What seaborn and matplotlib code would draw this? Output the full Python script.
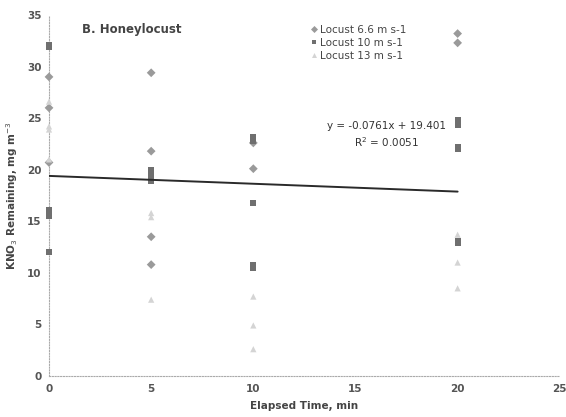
import numpy as np
import pandas as pd
import matplotlib
matplotlib.use("Agg")
import matplotlib.pyplot as plt
import seaborn as sns

series_names = ["Locust 6.6 m s-1", "Locust 10 m s-1", "Locust 13 m s-1"]

x_66 = [0, 0, 0, 5, 5, 5, 5, 10, 10, 20, 20]
y_66 = [29.0, 26.0, 20.7, 29.4, 21.8, 13.5, 10.8, 22.6, 20.1, 33.2, 32.3]

x_10 = [0, 0, 0, 0, 0, 0, 5, 5, 5, 5, 10, 10, 10, 10, 10, 20, 20, 20, 20, 20, 20, 20]
y_10 = [32.1, 31.9, 16.1, 15.8, 15.5, 12.0, 20.0, 19.6, 19.2, 18.9, 23.2, 22.8, 16.8, 10.8, 10.5, 24.8, 24.5, 24.3, 22.2, 22.0, 13.1, 12.9]

x_13 = [0, 0, 0, 0, 5, 5, 5, 10, 10, 10, 20, 20, 20]
y_13 = [26.6, 24.2, 23.9, 21.0, 15.8, 15.4, 7.4, 7.7, 4.9, 2.6, 13.7, 11.0, 8.5]

trend_slope = -0.0761
trend_intercept = 19.401
trend_x_range = [0, 20]

x_ticks = [0, 5, 10, 15, 20, 25]
y_ticks = [0, 5, 10, 15, 20, 25, 30, 35]

df = pd.DataFrame({
    "x": x_66 + x_10 + x_13,
    "y": y_66 + y_10 + y_13,
    "series": [series_names[0]] * len(x_66) + [series_names[1]] * len(x_10) + [series_names[2]] * len(x_13),
})

sns.set_theme(style="white")
plt.rcParams["font.family"] = ["DejaVu Sans"]

fig = plt.figure(figsize=(5.66, 4.17), dpi=100)
ax = fig.add_axes([0.0866, 0.0983, 0.9024, 0.8657])

palette = {series_names[0]: "#9a9a9a", series_names[1]: "#6f6f6f", series_names[2]: "#d4d4d4"}
markers = {series_names[0]: "D", series_names[1]: "s", series_names[2]: "^"}
sns.scatterplot(data=df, x="x", y="y", hue="series", style="series",
                palette=palette, markers=markers, s=20, edgecolor="none",
                ax=ax, legend=True, zorder=3)
for coll in ax.collections:
    coll.set_clip_on(False)

tx = np.array(trend_x_range, dtype=float)
ax.plot(tx, trend_slope * tx + trend_intercept, color="#2a2a2a", lw=1.4, zorder=4)

ax.set_xlim(0, 25)
ax.set_ylim(0, 35)
ax.set_xticks(x_ticks)
ax.set_yticks(y_ticks)
ax.tick_params(axis="both", labelsize=7.5, colors="#555555", length=2, width=0.6, direction="out")
for lab in ax.get_xticklabels() + ax.get_yticklabels():
    lab.set_fontweight("bold")

for side in ["top", "right"]:
    ax.spines[side].set_visible(False)
for side in ["left", "bottom"]:
    ax.spines[side].set_linestyle((0, (1, 1.5)))
    ax.spines[side].set_color("#aaaaaa")
    ax.spines[side].set_linewidth(0.8)

ax.set_xlabel("Elapsed Time, min", fontsize=7.5, fontweight="bold", color="#444444", labelpad=5)
ax.set_ylabel("KNO$_3$ Remaining, mg m$^{-3}$", fontsize=7.5, fontweight="bold", color="#444444", labelpad=5)

ax.text(1.6, 33.6, "B. Honeylocust", fontsize=8.5, fontweight="bold", color="#444444", va="center")

ax.text(16.5, 24.2, "y = -0.0761x + 19.401", fontsize=7.5, color="#333333", ha="center", va="center")
ax.text(16.5, 22.7, "R$^2$ = 0.0051", fontsize=7.5, color="#333333", ha="center", va="center")

leg = ax.legend(loc="upper left", bbox_to_anchor=(0.50, 0.985), frameon=False,
                fontsize=7.5, handletextpad=0.1, labelspacing=0.3, markerscale=0.8,
                borderaxespad=0, handlelength=1.0, title=None)
for t in leg.get_texts():
    t.set_color("#444444")

fig.savefig("out.png", dpi=100, facecolor="white")
